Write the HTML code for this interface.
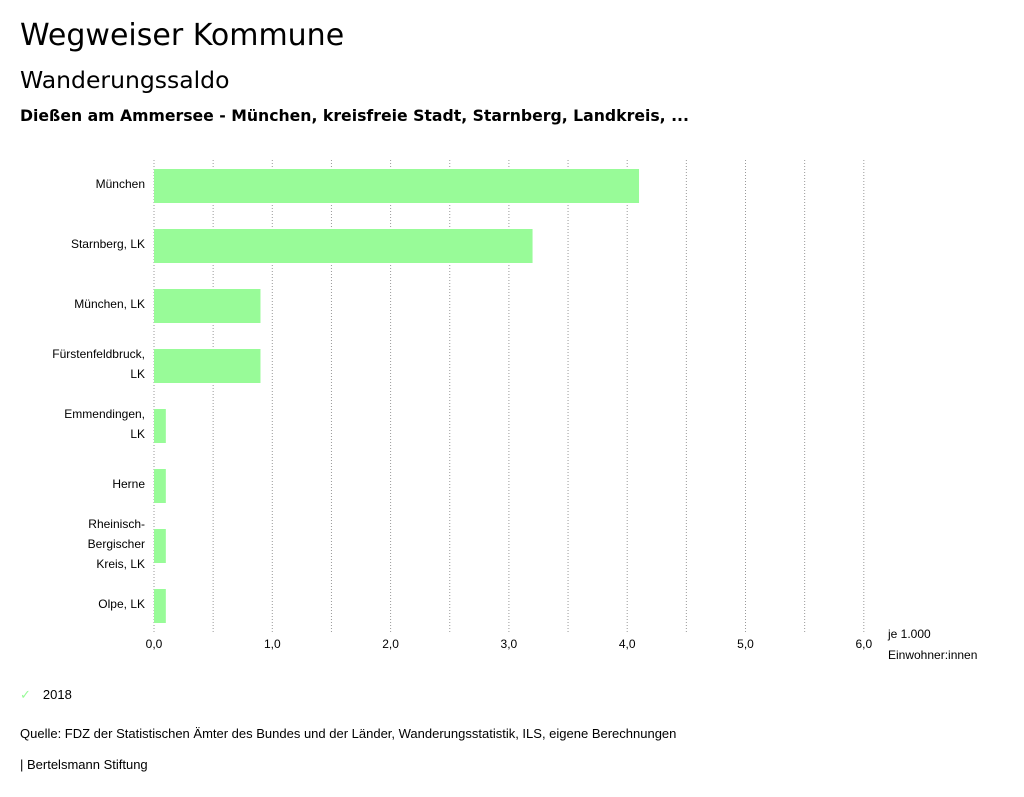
<!DOCTYPE html>
<html><head><meta charset="utf-8">
<style>
body{margin:0;background:#fff;font-family:"Liberation Sans",sans-serif;color:#000;}
.wrap{position:relative;width:1024px;height:797px;overflow:hidden;}
.t1{position:absolute;left:20px;top:18px;font-size:30px;font-family:"DejaVu Sans",sans-serif;}
.t2{position:absolute;left:20px;top:66px;font-size:23.5px;font-family:"DejaVu Sans",sans-serif;}
.t3{position:absolute;left:20px;top:106px;font-size:15.7px;font-weight:bold;font-family:"DejaVu Sans",sans-serif;}
.small{position:absolute;font-size:13px;}
svg text{font-family:"Liberation Sans",sans-serif;font-size:12px;}
</style></head><body>
<div class="wrap">
<div class="t1">Wegweiser Kommune</div>
<div class="t2">Wanderungssaldo</div>
<div class="t3">Dießen am Ammersee - München, kreisfreie Stadt, Starnberg, Landkreis, ...</div>
<svg id="chart" width="1024" height="680" style="position:absolute;left:0;top:0"></svg>
<div class="small" style="left:20px;top:687px"><span style="color:#98fb98;margin-right:12px">✓</span>2018</div>
<div class="small" style="left:20px;top:726px">Quelle: FDZ der Statistischen Ämter des Bundes und der Länder, Wanderungsstatistik, ILS, eigene Berechnungen</div>
<div class="small" style="left:20px;top:757px">| Bertelsmann Stiftung</div>
</div>
<script>
const categories=[["München"],["Starnberg, LK"],["München, LK"],["Fürstenfeldbruck,","LK"],["Emmendingen,","LK"],["Herne"],["Rheinisch-","Bergischer","Kreis, LK"],["Olpe, LK"]];
const values=[4.1,3.2,0.9,0.9,0.1,0.1,0.1,0.1];
const tickValues=[0,1,2,3,4,5,6];
const tickLabels=["0,0","1,0","2,0","3,0","4,0","5,0","6,0"];
const svg=document.getElementById('chart');
const NS='http://www.w3.org/2000/svg';
const x0=154,pxPerUnit=118.3,top0=156,rowH=60,barH=34;
const xs=v=>x0+v*pxPerUnit;
function mk(t,a){const e=document.createElementNS(NS,t);for(const k in a)e.setAttribute(k,a[k]);svg.appendChild(e);return e;}
for(let g=0;g<=12;g++){
  const l=mk('line',{x1:xs(g/2),x2:xs(g/2),y1:160,y2:632,stroke:'#999','stroke-dasharray':'1,2','stroke-width':1});
  
  
}
tickValues.forEach((v,i)=>{
  const t=mk('text',{x:xs(v),y:648,'text-anchor':'middle'});t.textContent=tickLabels[i];
  
  
});
const u1=mk('text',{x:888,y:638});u1.textContent='je 1.000';


const u2=mk('text',{x:888,y:659});u2.textContent='Einwohner:innen';


values.forEach((v,i)=>{
  const cy=top0+rowH*i+30;
  const r=mk('rect',{x:x0,y:cy-barH/2,width:xs(v)-x0,height:barH,fill:'#98fb98'});
  
  
  const lines=categories[i];
  lines.forEach((s,j)=>{
    const t=mk('text',{x:145,y:cy+2+(j-(lines.length-1)/2)*20,'text-anchor':'end'});t.textContent=s;
    
    
  });
});
</script>
</body></html>
